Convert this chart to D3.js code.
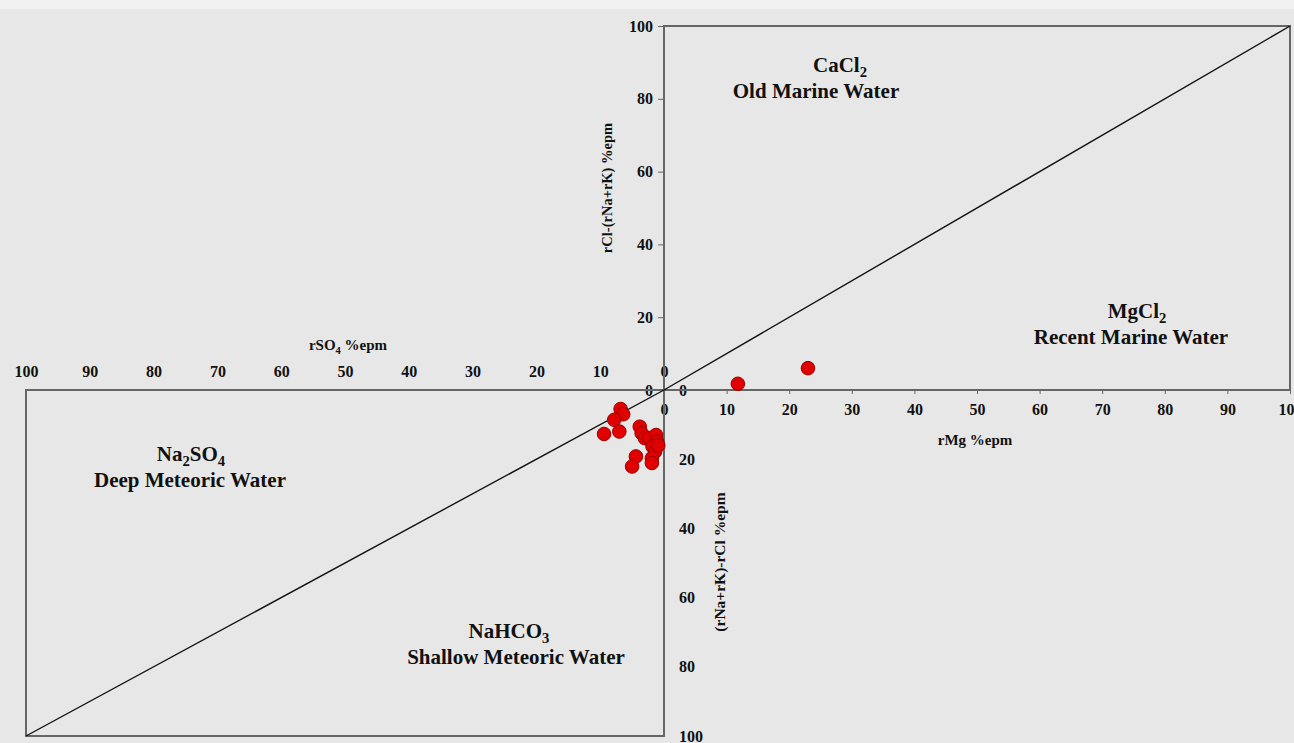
<!DOCTYPE html>
<html>
<head>
<meta charset="utf-8">
<script src="https://cdn.jsdelivr.net/npm/d3@7"></script>
<style>
  html, body { margin: 0; padding: 0; background: #e7e7e7; }
  svg { display: block; }
  text { font-family: "Liberation Serif", "Times New Roman", serif; font-weight: bold; fill: #111; }
</style>
</head>
<body>
<svg id="chart" width="1294" height="743"></svg>
<script>
// Upper quadrant: rMg %epm vs rCl-(rNa+rK) %epm
const rMg = [11.8, 23.0];
const clMinusNaK = [1.7, 6.0];

// Lower quadrant: rSO4 %epm vs (rNa+rK)-rCl %epm
const rSO4 = [6.8, 6.4, 7.8, 9.4, 7.0, 3.8, 3.5, 3.0, 2.3, 1.25, 1.1, 1.8, 1.4, 1.9, 1.9, 4.4, 5.0, 0.9];
const naKMinusCl = [5.5, 7.0, 8.6, 12.7, 12.0, 10.6, 12.5, 13.9, 13.9, 13.0, 14.9, 16.3, 17.8, 19.7, 21.1, 19.2, 22.1, 16.0];

const ticks10 = [0, 10, 20, 30, 40, 50, 60, 70, 80, 90, 100];
const ticks20 = [0, 20, 40, 60, 80, 100];

const svg = d3.select("#chart");

svg.append("rect").attr("x", 0).attr("y", 0).attr("width", 1294).attr("height", 9).attr("fill", "#f1f1f1");

// Scales
const xMg = d3.scaleLinear().domain([0, 100]).range([664, 1290]);
const yUp = d3.scaleLinear().domain([0, 100]).range([390, 26]);
const xSO4 = d3.scaleLinear().domain([0, 100]).range([664, 26]);
const yDown = d3.scaleLinear().domain([0, 100]).range([390, 736]);

const borderColor = "#666";
const tickFont = 16;

// Axes
function styleAxis(g, size) {
  g.select(".domain").remove();
  g.selectAll(".tick line").attr("stroke", borderColor).attr("stroke-width", 1);
  g.selectAll(".tick text")
    .attr("fill", "#111")
    .style("font-family", "'Liberation Serif', 'Times New Roman', serif")
    .style("font-weight", "bold")
    .style("font-size", size + "px");
}

svg.append("g")
  .attr("transform", "translate(664,0)")
  .call(d3.axisLeft(yUp).tickValues(ticks20).tickSize(6).tickPadding(5).tickFormat(d3.format("d")))
  .call(g => styleAxis(g, tickFont));

svg.append("g")
  .attr("transform", "translate(0,390)")
  .call(d3.axisBottom(xMg).tickValues(ticks10).tickSize(4).tickPadding(10).tickFormat(d3.format("d")))
  .call(g => styleAxis(g, tickFont));

svg.append("g")
  .attr("transform", "translate(0,390)")
  .call(d3.axisTop(xSO4).tickValues(ticks10).tickSize(0).tickPadding(13).tickFormat(d3.format("d")))
  .call(g => styleAxis(g, tickFont));

svg.append("g")
  .attr("transform", "translate(664,0)")
  .call(d3.axisRight(yDown).tickValues(ticks20).tickSize(0).tickPadding(15).tickFormat(d3.format("d")))
  .call(g => styleAxis(g, tickFont));

// Quadrant frames
svg.append("rect")
  .attr("x", xMg(0)).attr("y", yUp(100))
  .attr("width", xMg(100) - xMg(0)).attr("height", yUp(0) - yUp(100))
  .attr("fill", "none").attr("stroke", borderColor).attr("stroke-width", 2);

svg.append("rect")
  .attr("x", xSO4(100)).attr("y", yDown(0))
  .attr("width", xSO4(0) - xSO4(100)).attr("height", yDown(100) - yDown(0))
  .attr("fill", "none").attr("stroke", borderColor).attr("stroke-width", 2);

// 1:1 diagonals
svg.append("line")
  .attr("x1", xMg(0)).attr("y1", yUp(0)).attr("x2", xMg(100)).attr("y2", yUp(100))
  .attr("stroke", "#111").attr("stroke-width", 1.4);
svg.append("line")
  .attr("x1", xSO4(0)).attr("y1", yDown(0)).attr("x2", xSO4(100)).attr("y2", yDown(100))
  .attr("stroke", "#111").attr("stroke-width", 1.4);

// Chemical formulas with subscripts
function chem(sel, parts, size) {
  let shifted = false;
  parts.forEach(p => {
    if (typeof p === "string") {
      const t = sel.append("tspan").style("font-size", size + "px").text(p);
      if (shifted) { t.attr("dy", -size * 0.25); shifted = false; }
    } else {
      sel.append("tspan").attr("dy", size * 0.25).style("font-size", (size * 0.7) + "px").text(p.sub);
      shifted = true;
    }
  });
}

const t1 = svg.append("text").attr("x", 348).attr("y", 350).attr("text-anchor", "middle").style("font-size", "15px");
chem(t1, ["rSO", {sub: "4"}, " %epm"], 15);

svg.append("text").attr("x", 975).attr("y", 445).attr("text-anchor", "middle").style("font-size", "15px").text("rMg %epm");

svg.append("text")
  .attr("transform", "translate(612,188) rotate(-90)")
  .attr("text-anchor", "middle").style("font-size", "14.5px")
  .text("rCl-(rNa+rK)  %epm");

svg.append("text")
  .attr("transform", "translate(725,562) rotate(-90)")
  .attr("text-anchor", "middle").style("font-size", "15.5px")
  .text("(rNa+rK)-rCl  %epm");

// Water-type labels
function region(x, y, formula, name) {
  const f = svg.append("text").attr("x", x[0]).attr("y", y).attr("text-anchor", "middle").style("font-size", "21px");
  chem(f, formula, 21);
  svg.append("text").attr("x", x[1]).attr("y", y + 26).attr("text-anchor", "middle").style("font-size", "21px").text(name);
}
region([840, 816], 72, ["CaCl", {sub: "2"}], "Old Marine Water");
region([1137, 1131], 318, ["MgCl", {sub: "2"}], "Recent Marine  Water");
region([191, 190], 461, ["Na", {sub: "2"}, "SO", {sub: "4"}], "Deep Meteoric  Water");
region([509, 516], 638, ["NaHCO", {sub: "3"}], "Shallow Meteoric Water");

// Samples
const dotFill = "#e00000", dotStroke = "#9a0000";
svg.append("g").selectAll("circle")
  .data(rMg.map((v, i) => [v, clMinusNaK[i]]))
  .join("circle")
  .attr("cx", d => xMg(d[0])).attr("cy", d => yUp(d[1])).attr("r", 6.8)
  .attr("fill", dotFill).attr("stroke", dotStroke).attr("stroke-width", 1);

svg.append("g").selectAll("circle")
  .data(rSO4.map((v, i) => [v, naKMinusCl[i]]))
  .join("circle")
  .attr("cx", d => xSO4(d[0])).attr("cy", d => yDown(d[1])).attr("r", 6.8)
  .attr("fill", dotFill).attr("stroke", dotStroke).attr("stroke-width", 1);
</script>
</body>
</html>
